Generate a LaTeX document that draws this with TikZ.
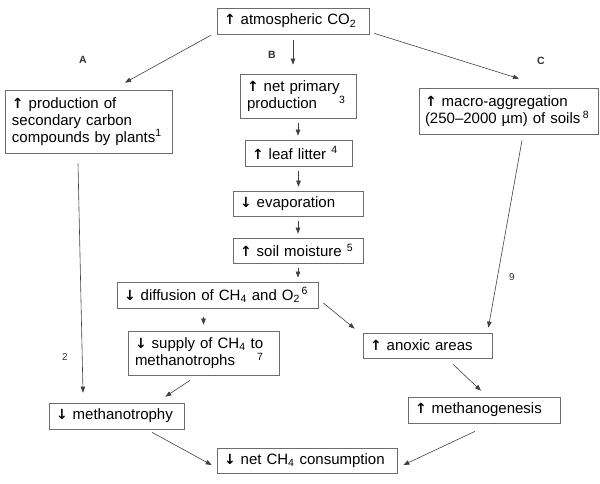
\documentclass[tikz,border=0pt]{standalone}
\usepackage{fontspec}
\setmainfont{Liberation Sans}
\newfontfamily\arrowfont{DejaVu Sans}
\newcommand{\incr}{{\arrowfont\bfseries\fontsize{14}{14}\selectfont ↑}}
\newcommand{\decr}{{\arrowfont\bfseries\fontsize{14}{14}\selectfont ↓}}
\usetikzlibrary{positioning, calc, arrows.meta}

\begin{document}
\begin{tikzpicture}[x=1pt, y=-1pt,
    box/.style={draw=gray!85!black, line width=0.7pt, inner xsep=7pt, inner ysep=0pt, align=left, font=\fontsize{15}{16.7}\selectfont},
    arrow/.style={-{Triangle[length=6pt, width=4.5pt]}, draw=black!75, line width=0.6pt},
    tag/.style={font=\fontsize{10.5}{12}\selectfont\bfseries, text=black!80}
]
    \useasboundingbox (0,0) rectangle (600,483);

    % Top
    \node[box, text width=138pt, minimum height=26pt] (co2) at (293,21) {\incr\ atmospheric CO\textsubscript{2}};

    % Pathway A
    \node[box, text width=153pt, minimum height=63pt] (prod) at (88.5,121.5) {\incr\ production of\\secondary carbon\\compounds by plants\textsuperscript{1}};
    \node[box, text width=121pt, minimum height=26pt] (mtrophy) at (116.5,416) {\decr\ methanotrophy};

    % Pathway B
    \node[box, text width=102pt, minimum height=44pt] (npp) at (298,96) {\incr\ net primary\\production\hspace{22pt}\textsuperscript{3}};
    \node[box, text width=93pt, minimum height=26pt] (leaf) at (298.5,153) {\incr\ leaf litter \textsuperscript{4}};
    \node[box, text width=116pt, minimum height=25pt] (evap) at (298,203.5) {\decr\ evaporation};
    \node[box, text width=116pt, minimum height=25pt] (soil) at (298,250.5) {\incr\ soil moisture \textsuperscript{5}};
    \node[box, text width=187pt, minimum height=26pt] (diff) at (217.5,295) {\decr\ diffusion of CH\textsubscript{4} and O\textsubscript{2}\textsuperscript{\,6}};
    \node[box, text width=137pt, minimum height=44pt] (supply) at (203.5,353) {\decr\ supply of CH\textsubscript{4} to\\methanotrophs\hspace{22pt}\textsuperscript{7}};

    % Pathway C
    \node[box, text width=167pt, inner xsep=6pt, minimum height=46pt] (macro) at (508.5,111) {\incr\ macro-aggregation\\\mbox{(250–2000 µm) of soils\,\textsuperscript{8}}};
    \node[box, text width=115pt, minimum height=25pt] (anoxic) at (427.5,345.5) {\incr\ anoxic areas};
    \node[box, text width=138pt, minimum height=26pt] (mgen) at (484,410) {\incr\ methanogenesis};

    % Bottom
    \node[box, text width=166pt, minimum height=25pt] (net) at (307,460.5) {\decr\ net CH\textsubscript{4} consumption};

    % Pathway labels
    \node[tag] (tA) at (83,60) {A};
    \node[tag] (tB) at (272,55) {B};
    \node[tag] (tC) at (541,61) {C};
    \node[tag, font=\fontsize{10}{11}\selectfont] (t2) at (65,357) {2};
    \node[tag, font=\fontsize{10}{11}\selectfont] (t9) at (512,277) {9};

    % Connections from the top
    \draw[arrow] ([xshift=-6pt, yshift=-1pt]co2.south west) -- ([xshift=36.5pt, yshift=7pt]prod.north);
    \draw[arrow, shorten <=6pt, shorten >=9pt] (co2.south) -- (co2.south |- npp.north);
    \draw[arrow] ([xshift=5pt, yshift=1pt]co2.south east) -- ([xshift=10.5pt, yshift=9pt]macro.north);

    % Chain B
    \foreach \a/\b in {npp/leaf, leaf/evap, evap/soil, soil/diff} {
        \draw[arrow, shorten <=5pt, shorten >=4pt] (\a.south) -- (\a.south |- \b.north);
    }
    \draw[arrow, shorten <=9pt, shorten >=6pt] (supply.north |- diff.south) -- (supply.north);
    \draw[arrow] ([xshift=5pt, yshift=-8pt]diff.east) -- ([xshift=-8pt, yshift=4pt]anoxic.north west);

    % Towards methanotrophy
    \draw[arrow] ([xshift=-10.5pt, yshift=-10pt]prod.south) -- ([xshift=-33.5pt, yshift=10pt]mtrophy.north);
    \draw[arrow] ([xshift=-13.5pt, yshift=-5pt]supply.south) -- ([xshift=-19pt, yshift=6pt]mtrophy.north east);

    % Chain C
    \draw[arrow] ([xshift=13.5pt, yshift=-6pt]macro.south) -- ([xshift=-4pt, yshift=5pt]anoxic.north east);
    \draw[arrow] ([xshift=25.5pt, yshift=-6pt]anoxic.south) -- ([xshift=-3pt, yshift=6pt]mgen.north);

    % Into net consumption
    \draw[arrow] ([xshift=35.5pt, yshift=-3pt]mtrophy.south) -- ([xshift=-5pt, yshift=-4.5pt]net.west);
    \draw[arrow] ([xshift=-9pt, yshift=-8pt]mgen.south) -- ([xshift=6pt, yshift=-4.5pt]net.east);

\end{tikzpicture}
\end{document}
